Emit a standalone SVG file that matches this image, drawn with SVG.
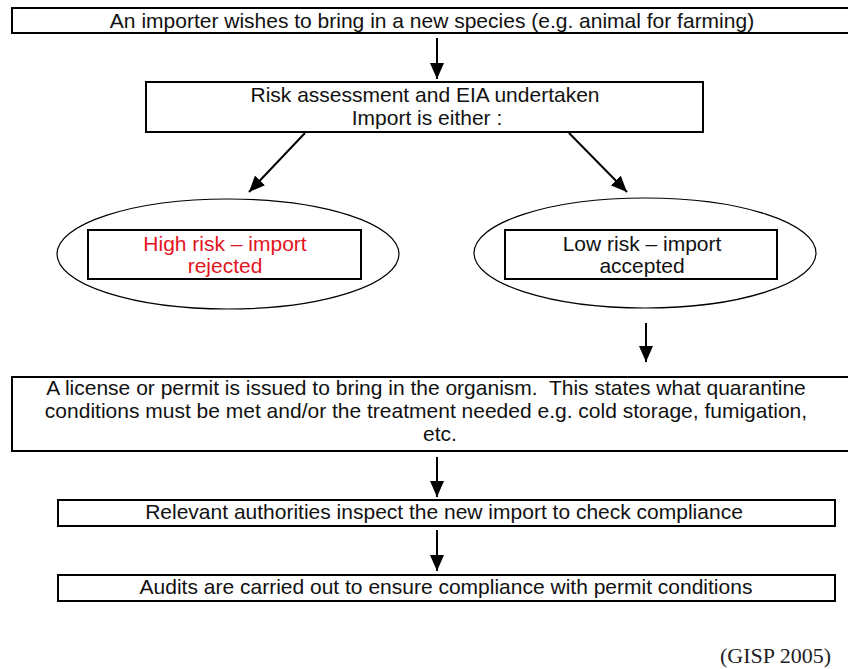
<svg xmlns="http://www.w3.org/2000/svg" width="848" height="669" viewBox="0 0 848 669">
<defs>
<style>
.box{fill:#fff;stroke:#000;stroke-width:2}
.ell{fill:#fff;stroke:#000;stroke-width:1.2}
.t{font-family:"Liberation Sans",Arial,sans-serif;font-size:21px;fill:#111;text-anchor:middle}
.red{fill:#e3141e}
.src{font-family:"Liberation Serif","Times New Roman",serif;font-size:22px;fill:#222;text-anchor:end}
.arr{stroke:#000;stroke-width:2;fill:none;marker-end:url(#ah)}
</style>
<marker id="ah" markerUnits="userSpaceOnUse" markerWidth="16" markerHeight="14" viewBox="0 0 16 14" refX="16" refY="7" orient="auto">
<path d="M0,0 L16,7 L0,14 Z" fill="#000"/>
</marker>
</defs>
<rect width="848" height="669" fill="#fff"/>
<g id="connectors">
<line class="arr" x1="437" y1="38" x2="437" y2="79"/>
<line class="arr" x1="305" y1="133" x2="249" y2="192"/>
<line class="arr" x1="569" y1="133" x2="627" y2="192"/>
<line class="arr" x1="646" y1="323" x2="646" y2="362"/>
<line class="arr" x1="437" y1="457" x2="437" y2="497"/>
<line class="arr" x1="437" y1="530" x2="437" y2="571"/>
</g>
<g id="n-importer">
<rect class="box" x="12" y="8" width="850" height="25"/>
<text class="t" x="432" y="28">An importer wishes to bring in a new species (e.g. animal for farming)</text>
</g>
<g id="n-risk">
<rect class="box" x="146" y="82" width="557" height="50"/>
<text class="t" x="425" y="102">Risk assessment and EIA undertaken</text>
<text class="t" x="427" y="125">Import is either :</text>
</g>
<g id="n-high">
<ellipse class="ell" cx="228" cy="254" rx="171" ry="55"/>
<rect class="box" x="88" y="230" width="273" height="49"/>
<text class="t red" x="225" y="251">High risk – import</text>
<text class="t red" x="225" y="273">rejected</text>
</g>
<g id="n-low">
<ellipse class="ell" cx="645" cy="253" rx="171" ry="55"/>
<rect class="box" x="505" y="230" width="272" height="49"/>
<text class="t" x="642" y="251">Low risk – import</text>
<text class="t" x="642" y="273">accepted</text>
</g>
<g id="n-license">
<rect class="box" x="12" y="377" width="850" height="74"/>
<text class="t" x="426" y="395">A license or permit is issued to bring in the organism.&#160; This states what quarantine</text>
<text class="t" x="426" y="418">conditions must be met and/or the treatment needed e.g. cold storage, fumigation,</text>
<text class="t" x="440" y="441">etc.</text>
</g>
<g id="n-inspect">
<rect class="box" x="58" y="500" width="777" height="26"/>
<text class="t" x="444" y="519">Relevant authorities inspect the new import to check compliance</text>
</g>
<g id="n-audit">
<rect class="box" x="58" y="575" width="777" height="26"/>
<text class="t" x="446" y="594">Audits are carried out to ensure compliance with permit conditions</text>
</g>
<text class="src" x="831" y="663">(GISP 2005)</text>
</svg>
